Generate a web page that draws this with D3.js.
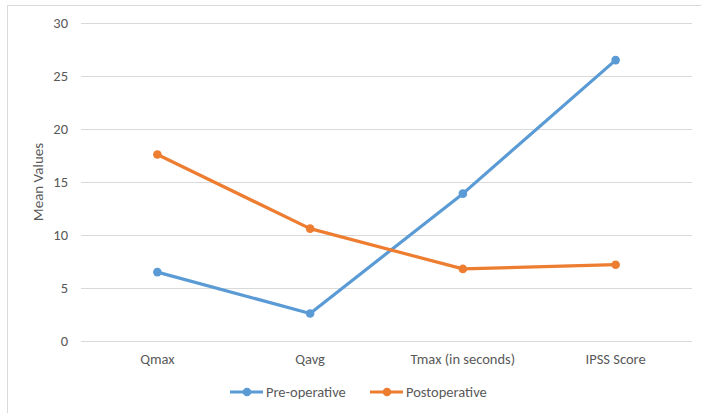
<!DOCTYPE html>
<html>
<head>
<meta charset="utf-8">
<script src="https://cdn.jsdelivr.net/npm/d3@7"></script>
<style>
  body { margin: 0; background: #fff; }
  text { font-family: Carlito, "Open Sans", "Liberation Sans", sans-serif; fill: #595959; }
</style>
</head>
<body>
<div id="wrapper"></div>
<script>
const categories = ["Qmax", "Qavg", "Tmax (in seconds)", "IPSS Score"];
const preOperative = [6.5, 2.6, 13.9, 26.5];
const postOperative = [17.6, 10.6, 6.8, 7.2];
const yTicks = [0, 5, 10, 15, 20, 25, 30];
const seriesNames = ["Pre-operative", "Postoperative"];
const colors = ["#5B9BD5", "#ED7D31"];

const width = 701, height = 413;
const plot = { left: 81, right: 692, top: 23, bottom: 341 };
const fontSize = "14.5px";

const svg = d3.select("#wrapper").append("svg")
    .attr("width", width)
    .attr("height", height);

// chart border
svg.append("rect")
    .attr("x", 7.5).attr("y", 5.5)
    .attr("width", 720).attr("height", 430)
    .attr("fill", "none")
    .attr("stroke", "#d9d9d9");

const x = d3.scaleBand().domain(categories).range([plot.left, plot.right]);
const y = d3.scaleLinear().domain([0, 30]).range([plot.bottom, plot.top]);

// gridlines + y labels
const yAxis = svg.append("g")
    .attr("transform", `translate(${plot.left},0)`)
    .call(d3.axisLeft(y).tickValues(yTicks).tickSize(-(plot.right - plot.left)).tickPadding(13));
yAxis.select(".domain").remove();
yAxis.selectAll("line").attr("stroke", "#d9d9d9").attr("stroke-width", 1);
yAxis.selectAll("text").style("font-size", fontSize).attr("fill", "#595959");

// x labels
const xAxis = svg.append("g")
    .attr("transform", `translate(0,${plot.bottom})`)
    .call(d3.axisBottom(x).tickSize(0).tickPadding(13));
xAxis.select(".domain").remove();
xAxis.selectAll("text").style("font-size", fontSize).attr("fill", "#595959");

// y title
svg.append("text")
    .attr("transform", "translate(43,182) rotate(-90)")
    .attr("text-anchor", "middle")
    .style("font-size", "15px")
    .text("Mean Values");

const line = d3.line()
    .x((d, i) => x(categories[i]) + x.bandwidth() / 2)
    .y(d => y(d));

[preOperative, postOperative].forEach((vals, s) => {
    svg.append("path")
        .attr("d", line(vals))
        .attr("fill", "none")
        .attr("stroke", colors[s])
        .attr("stroke-width", 3.2)
        .attr("stroke-linejoin", "round");
    svg.selectAll(null)
        .data(vals)
        .enter()
        .append("circle")
        .attr("cx", (d, i) => x(categories[i]) + x.bandwidth() / 2)
        .attr("cy", d => y(d))
        .attr("r", 4.3)
        .attr("fill", colors[s]);
});

// legend
const legendX = [230, 370];
seriesNames.forEach((name, s) => {
    const g = svg.append("g").attr("transform", `translate(${legendX[s]},392)`);
    g.append("line")
        .attr("x1", 0).attr("x2", 33)
        .attr("stroke", colors[s]).attr("stroke-width", 3.2);
    g.append("circle").attr("cx", 17).attr("r", 4.3).attr("fill", colors[s]);
    g.append("text")
        .attr("x", 36).attr("dy", "0.35em")
        .style("font-size", fontSize)
        .text(name);
});
</script>
</body>
</html>
